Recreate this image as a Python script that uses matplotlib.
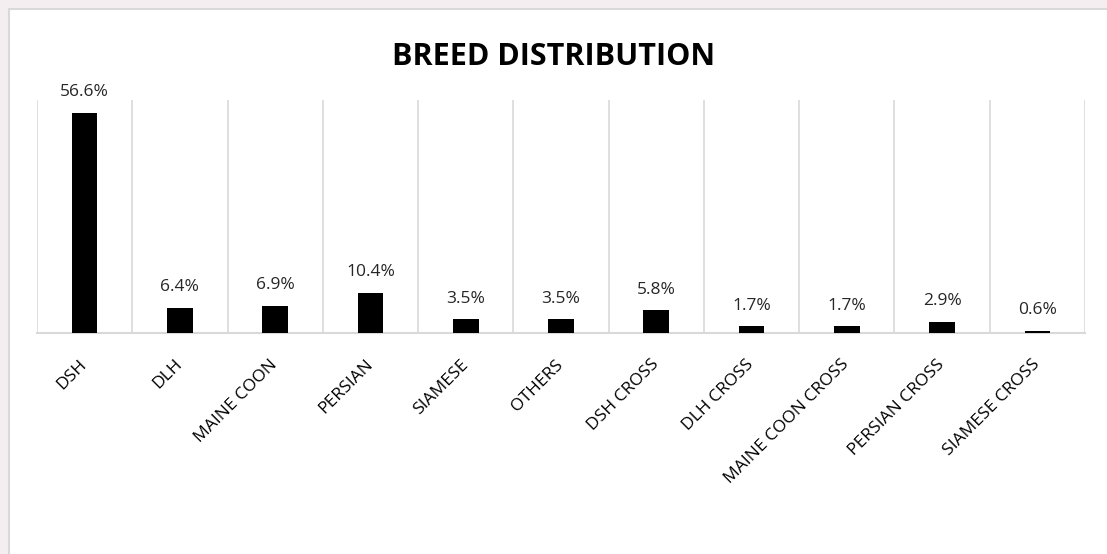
import matplotlib.pyplot as plt
import matplotlib.patches as patches
import numpy as np

# -------------------------------------------------
# Breed distribution bar chart
# -------------------------------------------------

breeds = ["DSH", "DLH", "MAINE COON", "PERSIAN", "SIAMESE", "OTHERS",
          "DSH CROSS", "DLH CROSS", "MAINE COON CROSS", "PERSIAN CROSS",
          "SIAMESE CROSS"]
percent = [56.6, 6.4, 6.9, 10.4, 3.5, 3.5, 5.8, 1.7, 1.7, 2.9, 0.6]

plt.rcParams["font.family"] = ["Open Sans", "DejaVu Sans"]


def main():
    fig = plt.figure(figsize=(11.07, 5.54), dpi=100, facecolor="#f4eef0")

    # white chart panel with a light border (behind the axes)
    panel = patches.Rectangle((8.5 / 1107, -0.01), 1.02, 1 - 8.5 / 554 + 0.01,
                              transform=fig.transFigure, facecolor="white",
                              edgecolor="#d9d9d9", linewidth=1.5, zorder=-10)
    fig.patches.append(panel)

    ax = fig.add_axes([37 / 1107, 1 - 333 / 554, (1085 - 37) / 1107, (333 - 100) / 554])
    ax.set_facecolor("none")
    ax.set_zorder(5)

    x = np.arange(len(breeds))
    ax.bar(x, percent, width=0.27, color="black", zorder=3)

    for xi, v in zip(x, percent):
        ax.annotate(f"{v}%", (xi, v), xytext=(0, 15), textcoords="offset points",
                    ha="center", va="center", fontsize=12.5, color="#262626")

    ax.set_xlim(-0.5, len(breeds) - 0.5)
    ax.set_ylim(0, 60)

    # vertical separators between categories
    for b in np.arange(-0.5, len(breeds), 1.0):
        ax.axvline(b, color="#d9d9d9", linewidth=1.2, zorder=1)

    for s in ["top", "left", "right"]:
        ax.spines[s].set_visible(False)
    ax.spines["bottom"].set_color("#d9d9d9")
    ax.spines["bottom"].set_linewidth(1.5)

    ax.set_yticks([])
    ax.set_xticks(x)
    ax.set_xticklabels(breeds, rotation=45, ha="right", va="center",
                       rotation_mode="anchor", fontsize=12.5, color="black")
    ax.tick_params(axis="x", length=0, pad=21)

    fig.text(0.5, 0.898, "BREED DISTRIBUTION", ha="center", va="center",
             fontsize=22, fontweight="bold", color="black")

    fig.savefig("out.png", dpi=100, facecolor=fig.get_facecolor())


main()
